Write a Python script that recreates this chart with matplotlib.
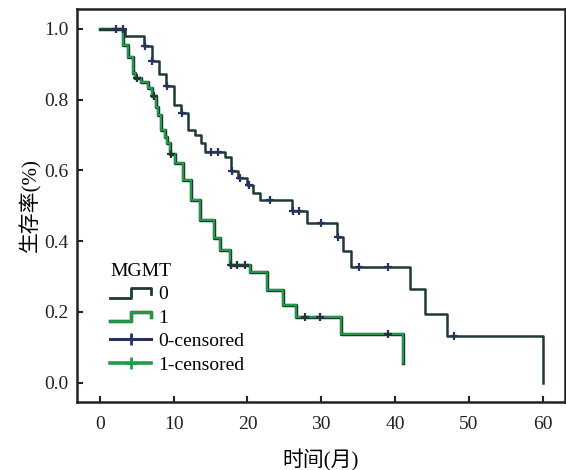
import numpy as np
import matplotlib
matplotlib.use("Agg")
import matplotlib.pyplot as plt
import matplotlib.patheffects as pe
from matplotlib.lines import Line2D
from matplotlib.legend_handler import HandlerBase

plt.rcParams['font.family'] = ['Liberation Serif', 'Noto Sans CJK SC']

# Kaplan-Meier curves (time in months, survival fraction)
time0 = [0, 3.4, 6.0, 7.0, 8.0, 9.0, 10.0, 11.0, 11.9, 12.9, 13.7, 14.3, 16.9, 17.8, 18.7,
         19.9, 20.8, 21.7, 26.0, 28.0, 32.1, 33.0, 34.0, 42.0, 44.1, 47.0, 60.0]
surv0 = [1.0, 0.98, 0.95, 0.908, 0.873, 0.837, 0.785, 0.762, 0.715, 0.70, 0.677, 0.653, 0.639,
         0.597, 0.578, 0.559, 0.535, 0.515, 0.484, 0.451, 0.413, 0.371, 0.328, 0.266, 0.195,
         0.133, 0.0]
cens0 = [2.2, 3.1, 6.1, 7.1, 9.1, 11.1, 15.1, 16.0, 17.9, 19.0, 20.2, 23.0, 26.1, 27.0, 30.0,
         32.3, 35.1, 39.1, 48.0]

time1 = [0, 3.1, 3.8, 4.5, 4.8, 5.6, 6.5, 7.1, 7.6, 7.9, 8.3, 8.8, 9.1, 9.5, 10.2, 11.3, 12.4,
         13.6, 15.4, 16.3, 17.6, 20.3, 22.6, 24.8, 26.6, 32.7, 41.1]
surv1 = [1.0, 0.955, 0.92, 0.876, 0.86, 0.85, 0.833, 0.81, 0.78, 0.757, 0.715, 0.695, 0.678,
         0.645, 0.621, 0.573, 0.517, 0.461, 0.409, 0.376, 0.333, 0.314, 0.263, 0.220, 0.185,
         0.138, 0.057]
cens1 = [5.0, 7.3, 9.7, 17.7, 18.6, 19.6, 27.8, 29.8, 39.1]

legend_labels = ['0', '1', '0-censored', '1-censored']

dark = '#1f3838'
green = '#1f9e45'
navy = '#26335e'
outline = [pe.Stroke(linewidth=2.5, foreground=dark), pe.Normal()]


def surv_at(times, surv, t):
    idx = np.searchsorted(times, t, side='right') - 1
    return np.array(surv)[idx]


class StepHandler(HandlerBase):
    def create_artists(self, legend, orig_handle, xdescent, ydescent, width, height,
                       fontsize, trans):
        x0 = -xdescent
        xs = np.array([0, 0.5, 0.5, 1.0, 1.0]) * width + x0
        ys = np.array([0.1, 0.1, 0.8, 0.8, 0.4]) * height - ydescent
        line = Line2D(xs, ys, color=orig_handle.get_color(), lw=2.0,
                      path_effects=orig_handle.get_path_effects(), transform=trans)
        return [line]


fig = plt.figure(figsize=(5.66, 4.70), dpi=100)
ax = fig.add_axes([0.136, 0.145, 0.862, 0.836])

l1, = ax.step(time1, surv1, where='post', color=green, lw=1.4, path_effects=outline)
l0, = ax.step(time0, surv0, where='post', color=dark, lw=1.8)

c0, = ax.plot(cens0, surv_at(time0, surv0, cens0), ls='none', marker='+', ms=6, mew=1.6,
              color=navy)
c1, = ax.plot(cens1, surv_at(time1, surv1, cens1), ls='none', marker='+', ms=6, mew=1.6,
              color=dark)

ax.set_xlim(-3.1, 63.0)
ax.set_ylim(-0.054, 1.056)
ax.set_xticks([0, 10, 20, 30, 40, 50, 60])
ax.set_yticks([0.0, 0.2, 0.4, 0.6, 0.8, 1.0])
ax.set_yticklabels(['%.1f' % v for v in [0.0, 0.2, 0.4, 0.6, 0.8, 1.0]])
ax.tick_params(direction='in', length=4, width=1.5, labelsize=14, colors='#222222')
ax.tick_params(axis='x', pad=10)
ax.tick_params(axis='y', pad=6)
for sp in ax.spines.values():
    sp.set_linewidth(1.8)
    sp.set_color('#222222')

ax.set_xlabel('时间(月)', fontsize=15, labelpad=12)
ax.set_ylabel('生存率(%)', fontsize=15, labelpad=2)

h0c = Line2D([], [], color=navy, lw=2.2, marker='+', ms=9, mew=2)
h1c = Line2D([], [], color=green, lw=2.6, marker='+', ms=9, mew=2)
leg = ax.legend([l0, l1, h0c, h1c], legend_labels, title='MGMT', loc='lower left',
                bbox_to_anchor=(0.04, 0.037), frameon=False, fontsize=14, title_fontsize=14,
                handlelength=2.1, handletextpad=0.4, labelspacing=0.3, borderpad=0.2,
                handler_map={l0: StepHandler(), l1: StepHandler()})
leg._legend_box.align = 'left'

fig.savefig('out.png', dpi=100)
